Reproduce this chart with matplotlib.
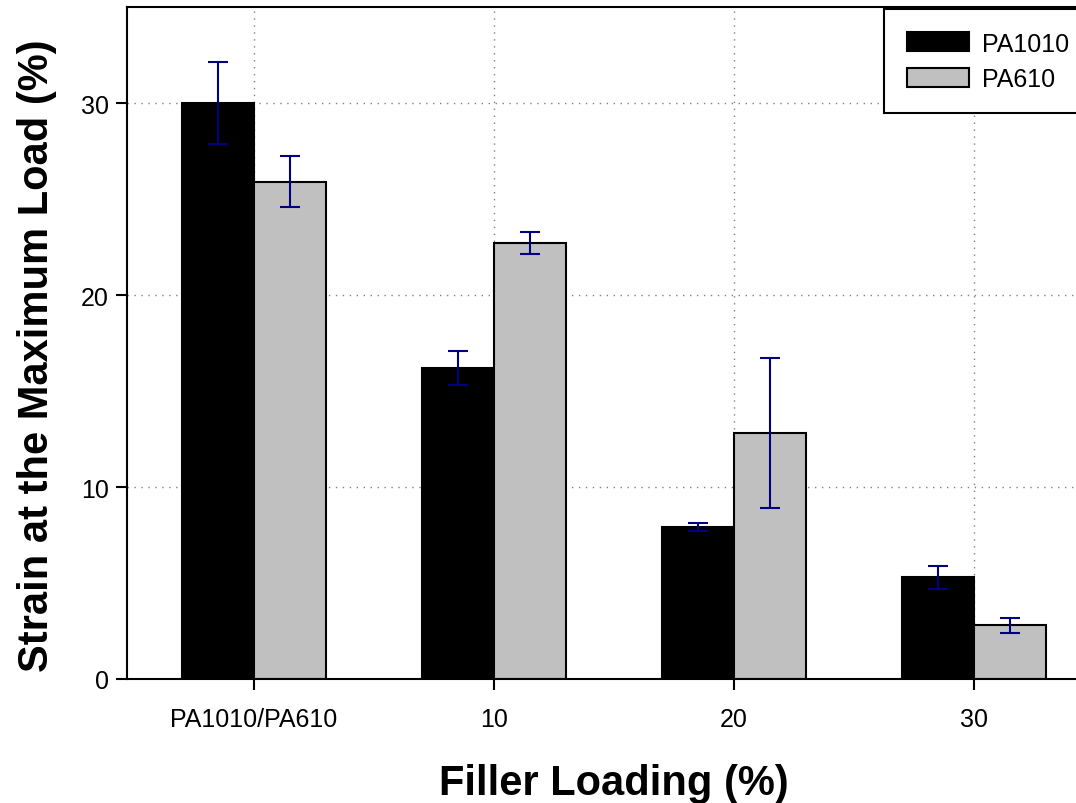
import numpy as np
import matplotlib.pyplot as plt

plt.rcParams['font.family'] = ['Liberation Sans', 'DejaVu Sans']

# filler loading groups
categories = ["PA1010/PA610", "10", "20", "30"]

# strain at maximum load (%) with standard deviations
pa1010 = [30.0, 16.2, 7.9, 5.3]
pa1010_err = [2.15, 0.9, 0.2, 0.6]
pa610 = [25.9, 22.7, 12.8, 2.8]
pa610_err = [1.33, 0.57, 3.9, 0.4]

x = np.arange(len(categories))
w = 0.3

fig = plt.figure(figsize=(10.76, 8.04), dpi=100)
ax = fig.add_axes([127 / 1076, 124 / 804, 974 / 1076, 672 / 804])

ax.bar(x - w / 2, pa1010, w, color="black", edgecolor="black", linewidth=1.5,
       label="PA1010", zorder=2)
ax.bar(x + w / 2, pa610, w, color="#c0c0c0", edgecolor="black", linewidth=1.5,
       label="PA610", zorder=2)
ax.errorbar(x - w / 2, pa1010, yerr=pa1010_err, fmt="none", ecolor="#000080",
            elinewidth=1.5, capsize=7, capthick=1.5, zorder=3)
ax.errorbar(x + w / 2, pa610, yerr=pa610_err, fmt="none", ecolor="#000080",
            elinewidth=1.5, capsize=7, capthick=1.5, zorder=3)

ax.set_xlim(-0.529, 3.529)
ax.set_ylim(0, 35)
ax.set_xticks(x)
ax.set_xticklabels(categories)
ax.set_yticks([0, 10, 20, 30])
ax.tick_params(direction="out", length=8, width=1.5, labelsize=18, pad=5)
ax.tick_params(axis="x", pad=12)
ax.grid(True, linestyle=(0, (1, 4)), color="gray", linewidth=1, zorder=0)
ax.set_axisbelow(True)
for s in ax.spines.values():
    s.set_linewidth(1.5)

ax.set_xlabel("Filler Loading (%)", fontsize=30, fontweight="bold", labelpad=23)
ax.set_ylabel("Strain at the Maximum Load (%)", fontsize=30, fontweight="bold")
ax.yaxis.set_label_coords(-0.072, 0.482)

leg = ax.legend(loc="upper left", bbox_to_anchor=(884 / 1076, 1 - 10 / 804),
                bbox_transform=fig.transFigure, fontsize=18, fancybox=False,
                framealpha=1, edgecolor="black", handlelength=2.5,
                handleheight=0.8, handletextpad=0.5, borderpad=0.9,
                labelspacing=0.45, borderaxespad=0)
leg.get_frame().set_linewidth(1.5)

fig.savefig("out.png", dpi=100)
